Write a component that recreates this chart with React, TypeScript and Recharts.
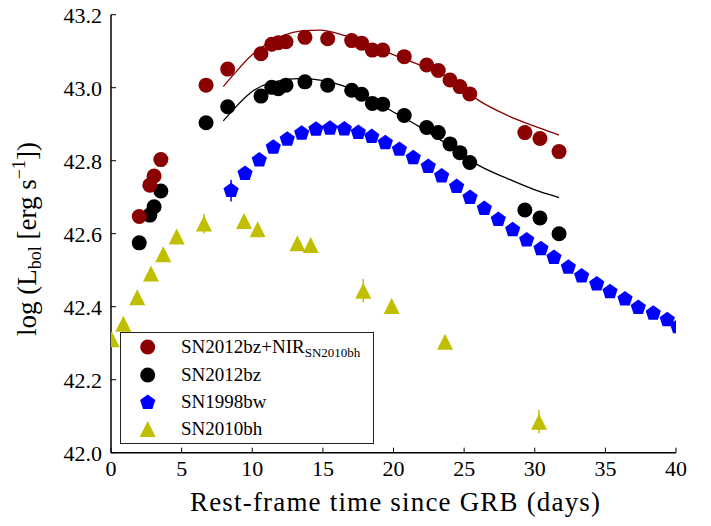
import React from "react";
import { ScatterChart, Scatter, XAxis, YAxis, ErrorBar } from "recharts";

// epochs shared by the two SN2012bz light curves (rest-frame days)
const bzDays = [2.0, 2.75, 3.05, 3.53, 6.73, 8.26, 10.62, 11.38, 11.84, 12.39, 13.73, 15.34, 17.04, 17.75, 18.5, 19.24, 20.76, 22.35, 23.17, 24.0, 24.7, 25.4, 29.3, 30.37, 31.72];
const nirLum = [42.647, 42.733, 42.758, 42.803, 43.007, 43.051, 43.093, 43.119, 43.123, 43.126, 43.138, 43.134, 43.129, 43.122, 43.103, 43.103, 43.085, 43.062, 43.047, 43.021, 43.003, 42.983, 42.877, 42.861, 42.825];
const bzLum = [42.575, 42.651, 42.674, 42.717, 42.904, 42.948, 42.977, 43.001, 42.997, 43.007, 43.016, 43.007, 42.993, 42.982, 42.957, 42.955, 42.924, 42.891, 42.877, 42.846, 42.822, 42.795, 42.665, 42.643, 42.6];

const bwDays = [8.5, 9.49, 10.5, 11.49, 12.48, 13.5, 14.51, 15.5, 16.52, 17.51, 18.46, 19.42, 20.42, 21.4, 22.46, 23.41, 24.47, 25.42, 26.43, 27.42, 28.44, 29.43, 30.44, 31.36, 32.38, 33.32, 34.39, 35.33, 36.39, 37.33, 38.39, 39.38, 40.12];
const bwLum = [42.718, 42.765, 42.802, 42.837, 42.859, 42.875, 42.886, 42.889, 42.887, 42.877, 42.866, 42.849, 42.831, 42.808, 42.784, 42.758, 42.729, 42.699, 42.669, 42.639, 42.611, 42.583, 42.559, 42.535, 42.508, 42.484, 42.462, 42.441, 42.421, 42.398, 42.382, 42.364, 42.345];
const bwErr = [0.03, 0, 0, 0, 0, 0, 0, 0, 0, 0, 0, 0, 0, 0, 0, 0, 0, 0, 0, 0, 0, 0, 0, 0, 0, 0, 0, 0, 0, 0, 0, 0, 0];

const bhDays = [0.05, 0.87, 1.86, 2.83, 3.7, 4.65, 6.58, 9.42, 10.38, 13.2, 14.14, 17.86, 19.87, 23.65, 30.3];
const bhLum = [42.311, 42.353, 42.426, 42.491, 42.544, 42.592, 42.628, 42.635, 42.612, 42.574, 42.569, 42.444, 42.402, 42.304, 42.085];
const bhErr = [0, 0, 0, 0, 0, 0, 0.027, 0, 0, 0, 0.015, 0.032, 0, 0.015, 0.032];

// fitted templates
const fitDays = [7.95, 8.66, 9.84, 11.26, 13.38, 14.8, 16.45, 18.0, 19.75, 21.88, 24.0, 26.0, 28.01, 30.37, 31.72];
const nirFit = [43.003, 43.035, 43.085, 43.125, 43.155, 43.158, 43.144, 43.122, 43.094, 43.062, 43.026, 42.966, 42.925, 42.889, 42.87];
const bzFit = [42.909, 42.94, 42.985, 43.013, 43.025, 43.021, 43.005, 42.977, 42.939, 42.892, 42.84, 42.788, 42.752, 42.715, 42.699];

const xTicks = [0, 5, 10, 15, 20, 25, 30, 35, 40];
const yTicks = [42.0, 42.2, 42.4, 42.6, 42.8, 43.0, 43.2];

const RED = "#8b0000";
const BLUE = "#0000ff";
const OLIVE = "#bfbf00";
const FONT = '"Liberation Serif", "DejaVu Serif", serif';

const pts = (xs: number[], ys: number[], errs?: number[]) =>
  xs.map((x, i) => ({ x, y: ys[i], err: errs ? errs[i] : 0 }));

const pentagon = (cx: number, cy: number, r: number) =>
  [0, 1, 2, 3, 4]
    .map((k) => {
      const a = ((-90 + 72 * k) * Math.PI) / 180;
      return `${cx + r * Math.cos(a)},${cy + r * Math.sin(a)}`;
    })
    .join(" ");

const triangle = (cx: number, cy: number, r: number) =>
  `${cx},${cy - r} ${cx - r},${cy + r} ${cx + r},${cy + r}`;

const dot = (color: string) => (p: any) => <circle cx={p.cx} cy={p.cy} r={7.5} fill={color} />;
const penta = (p: any) => <polygon points={pentagon(p.cx, p.cy, 8)} fill={BLUE} />;
const tri = (p: any) => <polygon points={triangle(p.cx, p.cy, 8)} fill={OLIVE} />;
const none = () => <g />;

const XTitle = () => (
  <text x={395} y={511} textAnchor="middle" style={{ fontFamily: FONT }} fontSize={27} fill="#000" textLength={410} lengthAdjust="spacing">
    Rest-frame time since GRB (days)
  </text>
);

const YTitle = () => (
  <text transform="translate(36,239) rotate(-90)" textAnchor="middle" style={{ fontFamily: FONT }} fontSize={27} fill="#000">
    log (L<tspan fontSize={18} dy={5}>bol</tspan>
    <tspan dy={-5}> [erg s</tspan>
    <tspan fontSize={18} dy={-11}>−1</tspan>
    <tspan dy={11}>])</tspan>
  </text>
);

const legendRows = [
  { label: "SN2012bz+NIR", sub: "SN2010bh", marker: "circle", color: RED },
  { label: "SN2012bz", sub: "", marker: "circle", color: "#000" },
  { label: "SN1998bw", sub: "", marker: "pentagon", color: BLUE },
  { label: "SN2010bh", sub: "", marker: "triangle", color: OLIVE },
];
const legendTops = [14.3, 42.3, 69.3, 95.6];

function LegendBox() {
  return (
    <div
      style={{
        position: "absolute",
        left: 120,
        top: 332,
        width: 254,
        height: 112,
        boxSizing: "border-box",
        border: "1.5px solid #222",
        background: "#fff",
        fontFamily: FONT,
        fontSize: 19,
        color: "#000",
      }}
    >
      {legendRows.map((row, i) => (
        <div key={row.label} style={{ position: "absolute", left: 0, top: legendTops[i] - 14, height: 28, width: 250 }}>
          <svg width={40} height={28} style={{ position: "absolute", left: 6, top: 0 }}>
            {row.marker === "circle" && <circle cx={20.7} cy={14} r={7.5} fill={row.color} />}
            {row.marker === "pentagon" && <polygon points={pentagon(20.7, 14.5, 8)} fill={row.color} />}
            {row.marker === "triangle" && <polygon points={triangle(20.7, 14, 8)} fill={row.color} />}
          </svg>
          <span style={{ position: "absolute", left: 60, top: 2, lineHeight: "24px", whiteSpace: "nowrap" }}>
            {row.label}
            {row.sub && <span style={{ fontSize: 13, position: "relative", top: 4 }}>{row.sub}</span>}
          </span>
        </div>
      ))}
    </div>
  );
}

export default function App() {
  const axisLine = { stroke: "#000", strokeWidth: 1.5 };
  const tickLine = { stroke: "#000", strokeWidth: 1 };
  const tickFont = { fontFamily: FONT, fontSize: 22, fill: "#000" };
  return (
    <div style={{ position: "absolute", left: 0, top: 0, width: 711, height: 526, background: "#fff", fontFamily: FONT }}>
      <ScatterChart width={711} height={526} margin={{ top: 14.7, right: 35, bottom: 33.3, left: 51 }} style={{ fontFamily: FONT }}>
        <XAxis
          type="number"
          dataKey="x"
          domain={[0, 40]}
          ticks={xTicks}
          interval={0}
          allowDataOverflow
          height={40}
          axisLine={axisLine}
          tickLine={tickLine}
          tickSize={-5}
          tickMargin={13}
          tick={tickFont}
          label={<XTitle />}
        />
        <XAxis
          xAxisId="top"
          orientation="top"
          type="number"
          dataKey="x"
          domain={[0, 40]}
          ticks={xTicks}
          interval={0}
          allowDataOverflow
          height={0}
          axisLine={axisLine}
          tickLine={tickLine}
          tickSize={-5}
          tick={false}
        />
        <YAxis
          type="number"
          dataKey="y"
          domain={[42, 43.2]}
          ticks={yTicks}
          interval={0}
          allowDataOverflow
          width={60}
          axisLine={axisLine}
          tickLine={tickLine}
          tickSize={-5}
          tickMargin={14}
          tick={tickFont}
          tickFormatter={(v: number) => v.toFixed(1)}
          label={<YTitle />}
        />
        <YAxis
          yAxisId="right"
          orientation="right"
          type="number"
          dataKey="y"
          domain={[42, 43.2]}
          ticks={yTicks}
          interval={0}
          allowDataOverflow
          width={0}
          axisLine={axisLine}
          tickLine={tickLine}
          tickSize={-5}
          tick={false}
        />

        <Scatter
          data={pts(fitDays, nirFit)}
          line={{ stroke: RED, strokeWidth: 1.3 }}
          lineJointType="monotoneX"
          shape={none}
          isAnimationActive={false}
        />
        <Scatter
          data={pts(fitDays, bzFit)}
          line={{ stroke: "#000", strokeWidth: 1.3 }}
          lineJointType="monotoneX"
          shape={none}
          isAnimationActive={false}
        />

        <Scatter data={pts(bhDays, bhLum, bhErr)} shape={tri} isAnimationActive={false}>
          <ErrorBar dataKey="err" direction="y" width={0} stroke={OLIVE} strokeWidth={1.5} />
        </Scatter>
        <Scatter data={pts(bwDays, bwLum, bwErr)} shape={penta} isAnimationActive={false}>
          <ErrorBar dataKey="err" direction="y" width={0} stroke={BLUE} strokeWidth={1.5} />
        </Scatter>
        <Scatter data={pts(bzDays, bzLum)} shape={dot("#000")} isAnimationActive={false} />
        <Scatter data={pts(bzDays, nirLum)} shape={dot(RED)} isAnimationActive={false} />
      </ScatterChart>
      <LegendBox />
    </div>
  );
}
